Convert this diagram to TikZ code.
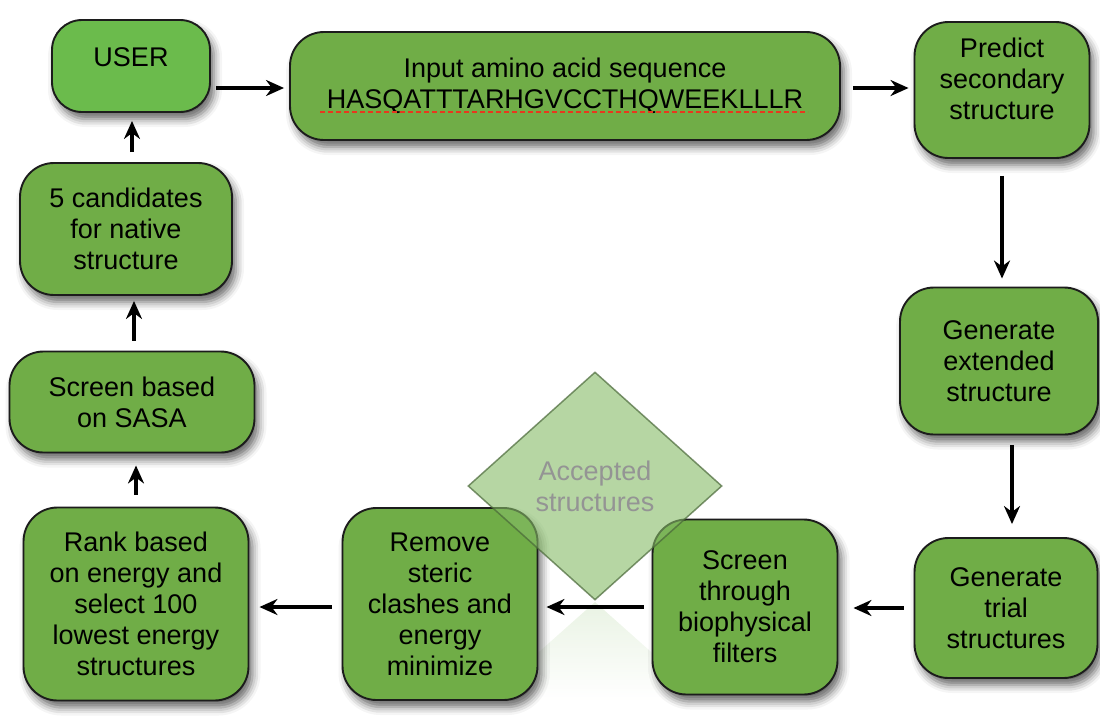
\documentclass[tikz,border=0pt]{standalone}
\usepackage{fontspec}
\setmainfont{Liberation Sans}
\usepackage{xcolor}
\usetikzlibrary{shapes.geometric, arrows.meta, positioning, calc, shadows.blur, fadings}

\definecolor{boxgreen}{HTML}{70AD47}
\definecolor{usergreen}{HTML}{6BBB4C}
\definecolor{acceptgreen}{HTML}{85BB66}
\definecolor{edgegray}{HTML}{1C1C1C}
\definecolor{spellred}{HTML}{E8381E}

\begin{document}
\begin{tikzpicture}[
  x=1pt, y=-1pt,
  >={Stealth[length=18pt,width=16pt]},
  every node/.style={inner sep=0pt, anchor=center, align=center,
    font=\fontsize{27}{31}\selectfont},
  stage/.style={draw=edgegray, line width=1.9pt, fill=boxgreen, rounded corners=34pt,
    blur shadow={shadow xshift=4pt, shadow yshift=-7pt, shadow blur radius=8pt, shadow opacity=60}},
  flow/.style={->, line width=3.6pt, draw=black},
  accept/.style={diamond, draw=black!45!acceptgreen, line width=1.5pt, fill=acceptgreen,
    fill opacity=0.6, draw opacity=0.7, text opacity=1, text=black!42},
  mirror/.style={fill=acceptgreen, fill opacity=0.18},
  spell/.style={draw=spellred, line width=2.6pt, dash pattern=on 5pt off 3pt}
]
  \useasboundingbox (0,0) rectangle (1100,715);
  % ----- faint reflection under the decision -----
  \fill[mirror, path fading=south] (595,602) -- (485,700) -- (705,700) -- cycle;
  % ----- top row -----
  \node[stage, fill=usergreen, rounded corners=30pt, minimum width=158pt, minimum height=92pt]
    (user) at (131,66) {USER\\[-13pt]\mbox{}};
  \node[stage, minimum width=550pt, minimum height=108pt]
    (input) at (565,86) {Input amino acid sequence\\HASQATTTARHGVCCTHQWEEKLLLR};
  \node[stage, minimum width=175pt, minimum height=136pt]
    (predict) at (1002,90) {Predict\\secondary\\structure\\[-9pt]\mbox{}};
  % ----- right column -----
  \node[stage, minimum width=198pt, minimum height=147pt]
    (ext) at (999,361) {Generate\\extended\\structure};
  \node[stage, minimum width=183pt, minimum height=140pt]
    (trial) at (1006,608) {Generate\\trial\\structures};
  % ----- bottom row -----
  \node[stage, minimum width=185pt, minimum height=175pt]
    (screen) at (745,607) {Screen\\through\\biophysical\\filters};
  \node[stage, minimum width=195pt, minimum height=192pt]
    (remove) at (440,604) {Remove\\steric\\clashes and\\energy\\minimize};
  \node[stage, minimum width=225pt, minimum height=193pt]
    (rank) at (136,604) {Rank based\\on energy and\\select 100\\lowest energy\\structures};
  % ----- left column -----
  \node[stage, minimum width=245pt, minimum height=101pt]
    (sasa) at (132,402) {Screen based\\on SASA};
  \node[stage, minimum width=212pt, minimum height=132pt]
    (cand) at (126,229) {5 candidates\\for native\\structure};
  % ----- decision over the bottom row -----
  \node[accept, minimum width=254pt, minimum height=228pt]
    (accepted) at (595,486) {Accepted\\structures};
  % ----- spell-check mark under the sequence -----
  \draw[spell] (320,112) -- (808,112);
  % ----- flow round the loop -----
  \draw[flow, shorten <=5pt, shorten >=5pt] ([yshift=-22pt]user.east) -- ([yshift=-2pt]input.west);
  \draw[flow, shorten <=12pt, shorten >=5pt] ([yshift=-2pt]input.east) -- ([yshift=-2pt]input.east -| predict.west);
  \draw[flow, shorten <=17pt, shorten >=8pt] (predict.south) -- (predict.south |- ext.north);
  \draw[flow, shorten <=10pt, shorten >=13pt] ([xshift=13pt]ext.south) -- ([xshift=13pt]ext.south |- trial.north);
  \draw[flow, shorten <=10pt, shorten >=15pt] (trial.west) -- (trial.west -| screen.east);
  \draw[flow, shorten <=8pt, shorten >=8pt] (screen.west) -- (screen.west -| remove.east);
  \draw[flow, shorten <=10pt, shorten >=10pt] ([yshift=-3pt]remove.west) -- ([yshift=-3pt]remove.west -| rank.east);
  \draw[flow, shorten <=12pt, shorten >=12pt] (rank.north) -- (rank.north |- sasa.south);
  \draw[flow, shorten <=10pt, shorten >=5pt] ([xshift=2pt]sasa.north) -- ([xshift=2pt]sasa.north |- cand.south);
  \draw[flow, shorten <=10pt, shorten >=8pt] ([xshift=6pt]cand.north) -- ([xshift=6pt]cand.north |- user.south);
\end{tikzpicture}
\end{document}
